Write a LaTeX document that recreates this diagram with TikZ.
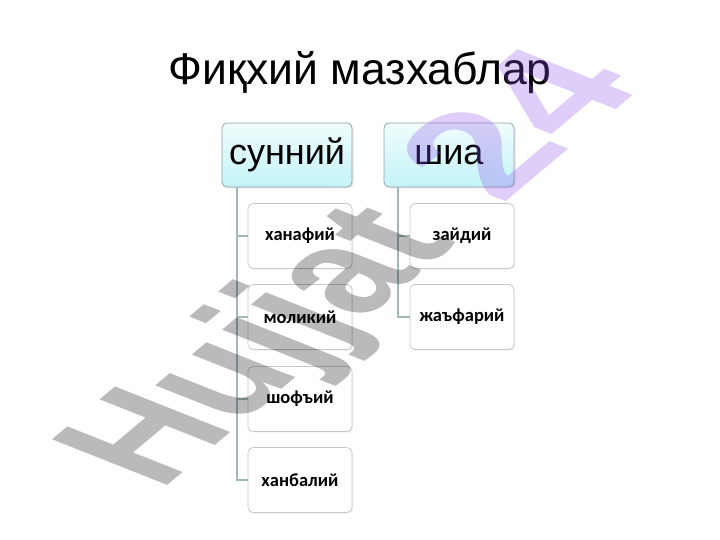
\documentclass[tikz,border=0pt]{standalone}
\usepackage{fontspec}
\setmainfont{Liberation Sans}
\newfontfamily\calib{Carlito}
\usetikzlibrary{shadows}
\definecolor{linec}{RGB}{160,184,184}
\definecolor{topbord}{RGB}{150,160,168}
\definecolor{childbord}{RGB}{200,200,200}
\definecolor{cyantop}{RGB}{240,252,252}
\definecolor{cyanbot}{RGB}{196,244,248}
\definecolor{wmgrey}{RGB}{0,0,0}
\definecolor{wmlav}{RGB}{140,80,235}
\tikzset{
  headbox/.style={draw=topbord, line width=0.8bp, rounded corners=5bp, minimum width=130bp, minimum height=64bp,
    top color=cyantop, bottom color=cyanbot, inner sep=0pt, font=\fontsize{36bp}{40bp}\selectfont,
    drop shadow={opacity=0.18, shadow xshift=1.5bp, shadow yshift=-1.5bp}},
  childbox/.style={draw=childbord, line width=0.8bp, rounded corners=5bp, minimum width=104bp, minimum height=65bp,
    fill=white, inner sep=0pt, font=\calib\bfseries\fontsize{18.5bp}{20bp}\selectfont,
    drop shadow={opacity=0.12, shadow xshift=1.2bp, shadow yshift=-1.2bp}},
  conn/.style={draw=linec, line width=1.2bp},
  wmtext/.style={anchor=base west, inner sep=0pt, transform shape, font=\bfseries\fontsize{100bp}{120bp}\selectfont}
}
\begin{document}
\begin{tikzpicture}[x=1bp,y=-1bp]
\useasboundingbox[fill=white] (0,0) rectangle (720,540);
\node[font=\fontsize{44.5bp}{48bp}\selectfont, anchor=base] (title) at (360,85) {Фиқхий мазхаблар};
% head boxes
\node[headbox] (sun) at (287,155) {сунний};
\node[headbox] (shi) at (449,155) {шиа};
% children
\node[childbox] (c1) at (300,236) {ханафий};
\node[childbox] (c2) at (300,317) {моликий};
\node[childbox] (c3) at (300,399) {шофъий};
\node[childbox] (c4) at (300,480) {ханбалий};
\node[childbox] (d1) at (462,236) {зайдий};
\node[childbox] (d2) at (462,317) {жаъфарий};
% connectors
\coordinate (ts) at (237,187);
\coordinate (ss) at (398,187);
\draw[conn] (ts) |- (c1.west);
\draw[conn] (ts) |- (c2.west);
\draw[conn] (ts) |- (c3.west);
\draw[conn] (ts) |- (c4.west);
\draw[conn] (ss) |- (d1.west);
\draw[conn] (ss) |- (d2.west);
% watermark
\begin{scope}[shift={(160,492)}, cm={1.0724,0.9002,-1.6758,0.6642,(0,0)}]
\node[wmtext, text=wmgrey, text opacity=0.27] (wm1) at (0,0) {Hujjat};
\end{scope}
\begin{scope}[shift={(501,206)}, cm={1.302,1.093,-1.6758,0.6642,(0,0)}]
\node[wmtext, text=wmlav, text opacity=0.28] (wm2) at (0,0) {24};
\end{scope}
\end{tikzpicture}
\end{document}
